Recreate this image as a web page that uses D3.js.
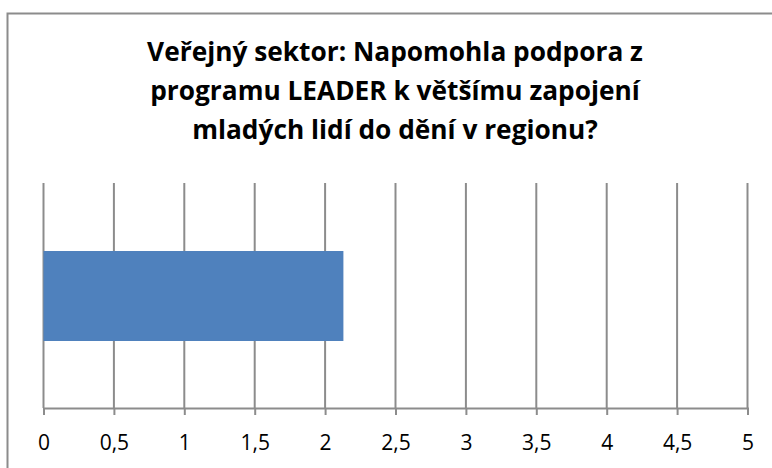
<!DOCTYPE html>
<html lang="cs">
<head>
<meta charset="utf-8" />
<title>Veřejný sektor – LEADER</title>
<script src="https://d3js.org/d3.v7.min.js"></script>
<style>
  body { margin: 0; background: #fff; font-family: "Open Sans", sans-serif; }
  svg  { display: block; }
  .title { font-weight: 700; font-size: 24px; fill: #000; text-anchor: middle; }
  .grid line { stroke: #8c8c8c; stroke-width: 2px; }
</style>
</head>
<body>
<svg id="chart" width="772" height="468"></svg>
<script>
// data
const categories = [""];
const values = [2.13];
const tickValues = [0, 0.5, 1, 1.5, 2, 2.5, 3, 3.5, 4, 4.5, 5];
const titleLines = [
  "Veřejný sektor: Napomohla podpora z",
  "programu LEADER k většímu zapojení",
  "mladých lidí do dění v regionu?"
];

const svg = d3.select("#chart");

// outer frame (right/bottom edges fall outside the picture)
svg.append("rect")
  .attr("x", 7.5).attr("y", 13.5)
  .attr("width", 800).attr("height", 500)
  .attr("fill", "none").attr("stroke", "#8c8c8c").attr("stroke-width", 2);

// title
const title = svg.append("g").selectAll("text")
  .data(titleLines)
  .enter().append("text")
    .attr("class", "title")
    .attr("x", 395)
    .attr("y", (d, i) => 61 + i * 39)
    .text(d => d);

// fit title font so the first line is about as wide as in the original
const w0 = title.node().getComputedTextLength();
title.style("font-size", (24 * 496 / w0) + "px");

const plot = { left: 43.5, right: 747.5, top: 183, bottom: 408 };

const x = d3.scaleLinear().domain([0, 5]).range([plot.left, plot.right]);
const y = d3.scaleBand().domain(categories).range([plot.top, plot.bottom]).padding(0.3);

// vertical gridlines
svg.append("g").attr("class", "grid")
  .selectAll("line")
  .data(tickValues)
  .enter().append("line")
    .attr("x1", d => x(d)).attr("x2", d => x(d))
    .attr("y1", plot.top).attr("y2", plot.bottom);

// bar
svg.append("g").selectAll("rect")
  .data(values)
  .enter().append("rect")
    .attr("x", x(0))
    .attr("y", 251)
    .attr("width", d => x(d) - x(0))
    .attr("height", 90)
    .attr("fill", "#4f81bd");

// x axis
const fmt = d => String(d).replace(".", ",");
const axis = svg.append("g")
  .attr("transform", `translate(0,${plot.bottom})`)
  .call(d3.axisBottom(x).tickValues(tickValues).tickFormat(fmt).tickSize(7).tickPadding(20));
axis.select(".domain").attr("stroke", "#8c8c8c").attr("stroke-width", 2);
axis.selectAll(".tick line").attr("stroke", "#8c8c8c").attr("stroke-width", 2);
axis.selectAll("text")
  .attr("font-size", 21)
  .attr("font-family", "'Open Sans', sans-serif")
  .attr("fill", "#000");
</script>
</body>
</html>
